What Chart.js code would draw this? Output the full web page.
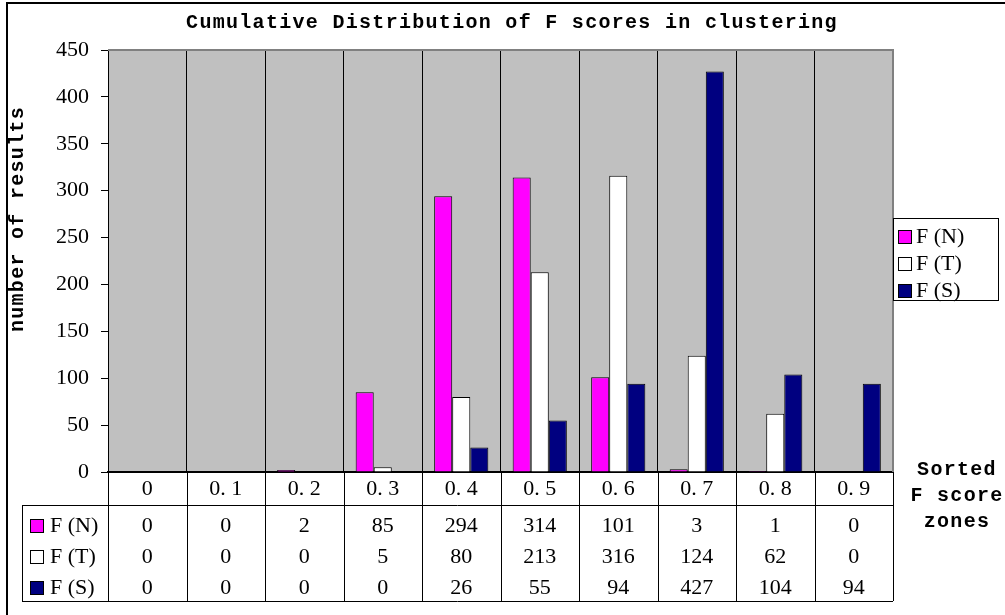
<!DOCTYPE html>
<html>
<head>
<meta charset="utf-8">
<title>Cumulative Distribution of F scores in clustering</title>
<script src="https://cdn.jsdelivr.net/npm/chart.js@4/dist/chart.umd.min.js"></script>
<style>
  html, body { margin: 0; padding: 0; background: #fff; }
  canvas { display: block; }
</style>
</head>
<body>
<canvas id="chart" width="1005" height="615"></canvas>
<script>
// ---- data ----
const categories = ['0', '0. 1', '0. 2', '0. 3', '0. 4', '0. 5', '0. 6', '0. 7', '0. 8', '0. 9'];
const seriesNames = ['F(N)', 'F(T)', 'F(S)'];
const fN = [0, 0, 2, 85, 294, 314, 101, 3, 1, 0];
const fT = [0, 0, 0, 5, 80, 213, 316, 124, 62, 0];
const fS = [0, 0, 0, 0, 26, 55, 94, 427, 104, 94];
const yTicks = [0, 50, 100, 150, 200, 250, 300, 350, 400, 450];

const colors = ['#FF00FF', '#FFFFFF', '#000080'];
const MONO = 'bold 20px "Liberation Mono", "DejaVu Sans Mono", monospace';
const SERIF_FAMILY = '"Liberation Serif", "DejaVu Serif", serif';
const SERIF = '22px ' + SERIF_FAMILY;

// splits "F(N)" into the wide look of the reference
function wideLabel(s) { return s.replace('(', ' ('); }

// ---- custom drawing: background, titles, data table, legend ----
const decor = {
  id: 'decor',
  beforeDraw(chart) {
    const { ctx, chartArea: a } = chart;
    ctx.save();
    ctx.fillStyle = '#C0C0C0';
    ctx.fillRect(a.left, a.top, a.right - a.left, a.bottom - a.top);
    ctx.restore();
  },
  afterDraw(chart) {
    const { ctx, chartArea: a } = chart;
    const x = chart.scales.x;
    const half = (x.getPixelForValue(1) - x.getPixelForValue(0)) / 2;
    ctx.save();

    // outer frame
    ctx.strokeStyle = '#000';
    ctx.lineWidth = 2;
    ctx.beginPath();
    ctx.moveTo(7, 615); ctx.lineTo(7, 3); ctx.lineTo(1005, 3);
    ctx.stroke();

    // plot border (top / right)
    ctx.strokeStyle = '#808080';
    ctx.lineWidth = 2;
    ctx.beginPath();
    ctx.moveTo(a.left, a.top); ctx.lineTo(a.right, a.top); ctx.lineTo(a.right, a.bottom);
    ctx.stroke();

    // chart title
    ctx.fillStyle = '#000';
    ctx.font = MONO;
    ctx.letterSpacing = '1.3px';
    ctx.textAlign = 'center';
    ctx.textBaseline = 'middle';
    ctx.fillText('Cumulative Distribution of F scores in clustering', 512, 23);

    // y title
    ctx.save();
    ctx.translate(18, 219);
    ctx.rotate(-Math.PI / 2);
    ctx.fillText('number of results', 0, 0);
    ctx.restore();

    // x title
    ctx.fillText('Sorted', 957, 470);
    ctx.fillText('F score', 957, 496);
    ctx.fillText('zones', 957, 522);
    ctx.letterSpacing = '0px';

    // table grid
    const tLeft = 22, rowTop = 505, tBottom = 601;
    ctx.strokeStyle = '#000';
    ctx.lineWidth = 1;
    ctx.beginPath();
    ctx.moveTo(tLeft, rowTop + 0.5); ctx.lineTo(a.right, rowTop + 0.5);
    ctx.moveTo(tLeft, tBottom + 0.5); ctx.lineTo(a.right, tBottom + 0.5);
    ctx.moveTo(tLeft + 0.5, rowTop); ctx.lineTo(tLeft + 0.5, tBottom);
    for (let i = 0; i <= categories.length; i++) {
      const bx = Math.round(x.getPixelForValue(0) - half + i * 2 * half) + 0.5;
      ctx.moveTo(bx, a.bottom); ctx.lineTo(bx, tBottom);
    }
    ctx.stroke();

    // category labels and values
    ctx.font = SERIF;
    ctx.textAlign = 'center';
    const rows = [fN, fT, fS];
    const rowY = [526, 557, 588];
    categories.forEach((c, i) => {
      const cx = x.getPixelForValue(i);
      ctx.fillText(c, cx, 489);
      rows.forEach((r, k) => ctx.fillText(String(r[i]), cx, rowY[k]));
    });

    // table row keys
    seriesNames.forEach((name, k) => {
      ctx.fillStyle = colors[k];
      ctx.fillRect(30, rowY[k] - 7, 14, 14);
      ctx.strokeStyle = '#000';
      ctx.strokeRect(30.5, rowY[k] - 6.5, 13, 13);
      ctx.fillStyle = '#000';
      ctx.textAlign = 'left';
      ctx.fillText(wideLabel(name), 50, rowY[k]);
    });

    // legend box
    ctx.lineWidth = 1;
    ctx.strokeStyle = '#000';
    ctx.fillStyle = '#fff';
    ctx.fillRect(893, 218, 105, 82);
    ctx.strokeRect(893.5, 218.5, 105, 82);
    const legY = [237, 264, 291];
    seriesNames.forEach((name, k) => {
      ctx.fillStyle = colors[k];
      ctx.fillRect(898, legY[k] - 7, 14, 14);
      ctx.strokeRect(898.5, legY[k] - 6.5, 13, 13);
      ctx.fillStyle = '#000';
      ctx.textAlign = 'left';
      ctx.fillText(wideLabel(name), 916, legY[k]);
    });

    ctx.restore();
  }
};

new Chart(document.getElementById('chart'), {
  type: 'bar',
  data: {
    labels: categories,
    datasets: [fN, fT, fS].map((d, k) => ({
      label: seriesNames[k],
      data: d,
      backgroundColor: colors[k],
      borderColor: '#000',
      borderWidth: 1,
      borderSkipped: 'bottom',
      barPercentage: 1,
      categoryPercentage: 0.69,
    })),
  },
  options: {
    responsive: false,
    animation: false,
    layout: { padding: { left: 8, right: 112, top: 50, bottom: 143 } },
    plugins: {
      legend: { display: false },
      title: { display: false },
      tooltip: { enabled: false },
    },
    scales: {
      x: {
        afterFit(s) { s.height = 0; },
        ticks: { display: false },
        grid: { offset: true, color: '#000', lineWidth: 1, drawTicks: false },
        border: { color: '#000', width: 2 },
      },
      y: {
        min: 0,
        max: 450,
        afterFit(s) { s.width = 100; },
        afterBuildTicks(s) { s.ticks = yTicks.map(v => ({ value: v })); },
        ticks: {
          color: '#000',
          padding: 12,
          font: { family: SERIF_FAMILY, size: 22 },
        },
        grid: { drawOnChartArea: false, color: '#000', tickLength: 7 },
        border: { color: '#000', width: 1 },
      },
    },
  },
  plugins: [decor],
});
</script>
</body>
</html>
